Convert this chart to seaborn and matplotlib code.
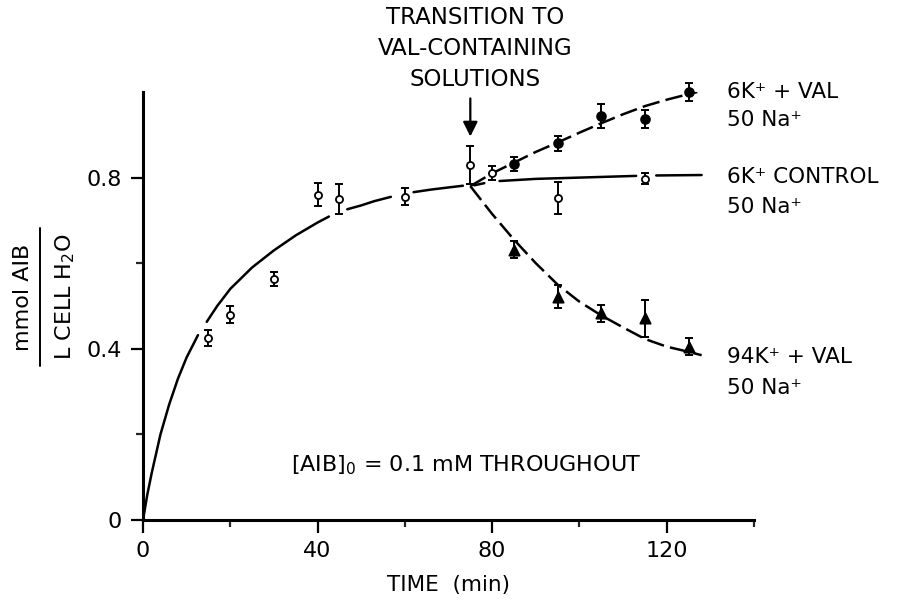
"""
Captação de AIB em células - transição para soluções com valinomicina
"""

import numpy as np
import matplotlib.pyplot as plt
import seaborn as sns
from matplotlib.lines import Line2D
from matplotlib.ticker import FixedLocator, FuncFormatter

# pontos medidos (tempo em min, mmol AIB / L cell H2O)
ctrl_t = [15, 20, 30, 40, 45, 60, 75, 80, 95, 115]
ctrl_v = [0.425, 0.48, 0.563, 0.76, 0.75, 0.755, 0.83, 0.81, 0.752, 0.797]
ctrl_err = [0.019, 0.019, 0.017, 0.027, 0.036, 0.02, 0.045, 0.016, 0.038, 0.013]

val6_t = [85, 95, 105, 115, 125]
val6_v = [0.831, 0.88, 0.945, 0.937, 1.0]
val6_err = [0.016, 0.017, 0.028, 0.02, 0.02]

val94_t = [85, 95, 105, 115, 125]
val94_v = [0.631, 0.522, 0.483, 0.471, 0.405]
val94_err = [0.02, 0.027, 0.02, 0.044, 0.02]

# curvas desenhadas à mão
rise_t = [0, 1, 2, 4, 6, 8, 10, 12.6, 14.6, 17, 20, 25, 30, 35, 40, 42.6,
          46.8, 50, 53, 56.8, 62, 66, 70, 73.3]
rise_v = [0, 0.06, 0.11, 0.20, 0.27, 0.33, 0.38, 0.432, 0.463, 0.50, 0.54,
          0.59, 0.63, 0.665, 0.695, 0.709, 0.726, 0.735, 0.745, 0.755, 0.766,
          0.772, 0.777, 0.781]
rise_gaps = [(12.6, 14.6), (42.6, 46.8), (56.8, 62)]

ctrl_fit_t = [75.9, 78.2, 81.7, 90, 100, 113, 117.6, 128]
ctrl_fit_v = [0.782, 0.787, 0.792, 0.797, 0.800, 0.804, 0.805, 0.806]
ctrl_gaps = [(78.2, 81.7), (113, 117.6)]

val6_fit_t = [75, 80, 85, 90, 95, 100, 105, 110, 115, 120, 125, 127]
val6_fit_v = [0.78, 0.81, 0.835, 0.86, 0.882, 0.905, 0.927, 0.948, 0.967,
              0.982, 0.995, 1.0]

val94_fit_t = [75, 80, 85, 90, 95, 100, 105, 110, 115, 120, 125, 128]
val94_fit_v = [0.78, 0.715, 0.655, 0.60, 0.55, 0.51, 0.478, 0.45, 0.423,
               0.405, 0.393, 0.385]

# textos
transition_lines = ["TRANSITION TO", "VAL-CONTAINING", "SOLUTIONS"]
right_labels = [("6K⁺ + VAL", "50 Na⁺"), ("6K⁺ CONTROL", "50 Na⁺"),
                ("94K⁺ + VAL", "50 Na⁺")]
right_label_y = [(1.0, 0.935), (0.801, 0.731), (0.381, 0.308)]
note = r"[AIB]$_0$ = 0.1 mM THROUGHOUT"

sns.set_theme(style='ticks')
plt.rcParams['font.family'] = ['DejaVu Sans']
plt.rcParams['text.color'] = 'black'


def desenhar_curva(ax, t, v, gaps=(), **kw):
    # divide a curva nos intervalos em que o traço foi interrompido
    pedacos = [[0]]
    for i in range(1, len(t)):
        if (t[i - 1], t[i]) in gaps:
            pedacos.append([i])
        else:
            pedacos[-1].append(i)
    for p in pedacos:
        sns.lineplot(x=[t[i] for i in p], y=[v[i] for i in p], ax=ax,
                     color='black', lw=1.8, legend=False, **kw)


def desenhar_pontos(ax, t, v, err, marker, fill, size):
    ax.errorbar(t, v, yerr=err, fmt='none', ecolor='black', elinewidth=1.4,
                capsize=3.2, capthick=1.4, zorder=3, clip_on=False)
    sns.scatterplot(x=t, y=v, ax=ax, marker=marker, s=size, color=fill,
                    edgecolor='black', linewidth=1.3, zorder=4, clip_on=False,
                    legend=False)


fig = plt.figure(figsize=(9.16, 6.0), dpi=100)
ax = fig.add_axes([143 / 916, 80 / 600, 611 / 916, 428 / 600])

desenhar_curva(ax, rise_t, rise_v, rise_gaps)
desenhar_curva(ax, ctrl_fit_t, ctrl_fit_v, ctrl_gaps)
desenhar_curva(ax, val6_fit_t, val6_fit_v, linestyle=(0, (7, 2.5)))
desenhar_curva(ax, val94_fit_t, val94_fit_v, linestyle=(0, (7, 2.5)))

desenhar_pontos(ax, ctrl_t, ctrl_v, ctrl_err, 'o', 'white', 26)
desenhar_pontos(ax, val6_t, val6_v, val6_err, 'o', 'black', 40)
desenhar_pontos(ax, val94_t, val94_v, val94_err, '^', 'black', 55)

ax.set_xlim(0, 140)
ax.set_ylim(0, 1.0)
ax.xaxis.set_major_locator(FixedLocator([0, 40, 80, 120]))
ax.xaxis.set_minor_locator(FixedLocator([20, 60, 100, 140]))
ax.yaxis.set_major_locator(FixedLocator([0, 0.4, 0.8]))
ax.yaxis.set_minor_locator(FixedLocator([0.2, 0.6]))
ax.yaxis.set_major_formatter(FuncFormatter(lambda v, _: '0' if v == 0 else f'{v:.1f}'))
ax.tick_params(which='major', length=9, width=1.6, labelsize=16, pad=6, colors='black')
ax.tick_params(which='minor', length=5, width=1.6)
sns.despine(ax=ax)
for s in ['left', 'bottom']:
    ax.spines[s].set_linewidth(2.2)
    ax.spines[s].set_color('black')
ax.set_facecolor('white')
ax.grid(False)

ax.set_xlabel('TIME  (min)', fontsize=15.5, labelpad=10, color='black')
ax.set_ylabel('')

# rótulo do eixo y em forma de fração
fig.text(23 / 916, 1 - 297 / 600, 'mmol AIB', rotation=90, fontsize=16,
         ha='center', va='center')
fig.text(65 / 916, 1 - 297 / 600, r'L CELL H$_2$O', rotation=90, fontsize=16,
         ha='center', va='center')
fig.add_artist(Line2D([40 / 916, 40 / 916], [1 - 228 / 600, 1 - 366 / 600],
                      color='black', lw=1.4))

# anotação da transição
for texto, y in zip(transition_lines, [1.173, 1.101, 1.030]):
    ax.text(76.2, y, texto, fontsize=16.5, ha='center', va='center', clip_on=False)
ax.annotate('', xy=(75, 0.896), xytext=(75, 0.985),
            arrowprops=dict(arrowstyle='-|>', color='black', lw=1.6,
                            mutation_scale=22, shrinkA=0, shrinkB=0),
            annotation_clip=False)

for (l1, l2), (y1, y2) in zip(right_labels, right_label_y):
    ax.text(133.8, y1, l1, fontsize=15.5, ha='left', va='center', clip_on=False)
    ax.text(133.8, y2, l2, fontsize=15.5, ha='left', va='center', clip_on=False)

ax.text(34, 0.128, note, fontsize=16, ha='left', va='center')

fig.savefig('out.png', dpi=100, facecolor='white')
